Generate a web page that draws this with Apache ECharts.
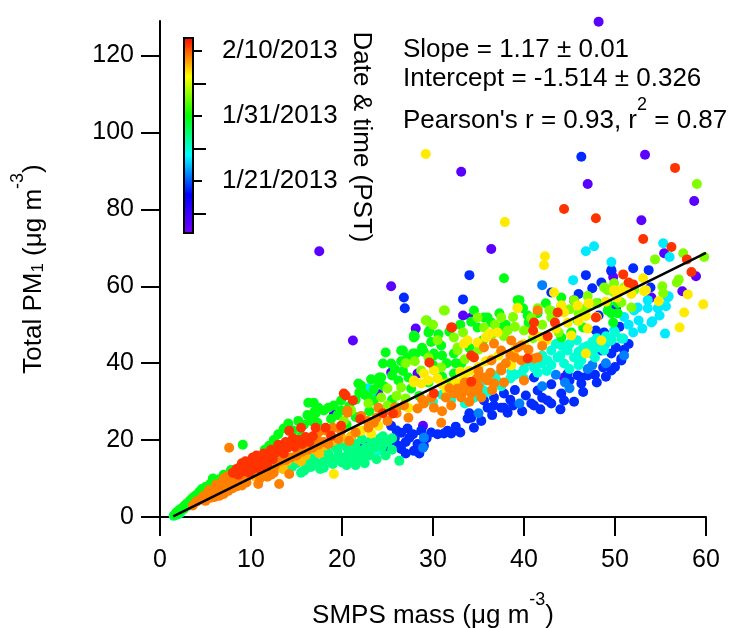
<!DOCTYPE html>
<html>
<head>
<meta charset="utf-8">
<script src="https://cdn.jsdelivr.net/npm/echarts@6/dist/echarts.min.js"></script>
<style>html,body{margin:0;padding:0;background:#fff}#c{width:735px;height:628px}</style>
</head>
<body>
<div id="c"></div>
<script>
// ---- colour scale (date, day-of-year 2013) ----
const dayMin = 13, dayMax = 43;
const rainbow = ['#7700ff', '#0000ff', '#00ffff', '#00ff00', '#ffff00', '#ff0000'];
const cbMajorTicks = [21, 31, 41];
const cbMajorLabels = ['1/21/2013', '1/31/2013', '2/10/2013'];
const cbMinorTicks = [16, 26, 36];

// ---- axis ticks ----
const xTicks = [0, 10, 20, 30, 40, 50, 60];
const yTicks = [0, 20, 40, 60, 80, 100, 120];

// ---- fit ----
const fitSlope = 1.17, fitIntercept = -1.514;
const fitX = [1.45, 60];

// ---- points grouped by date (day value per group) ----
const groupDays = [14.5, 20, 22, 24.5, 26, 28, 30.5, 34, 37.5, 38.5, 40, 41.8];

const violetPts = [[17.5,69.1],[33.1,89.8],[36.4,69.7],[25.4,60.0],[28.1,49.0],[47.0,86.6],[21.2,45.9],[53.3,94.2],[58.7,82.2],[52.9,77.2],[55.4,68.6],[58.9,62.6],[57.4,58.7],[49.6,63.9],[49.8,62.4],[22.4,19.0],[28.9,23.7],[25.4,37.6],[44.4,36.3],[33.3,52.4],[34.2,51.9],[45.5,56.4],[54.0,57.1],[48.2,128.8],[28.3,37.3],[24.0,32.0],[19.1,26.6]];

const bluePts = [[34.0,62.9],[26.8,57.1],[26.9,54.3],[33.3,56.6],[46.3,93.7],[46.8,62.9],[52.0,64.7],[53.7,64.2],[53.9,59.7],[43.0,58.4],[25.4,23.7],[25.8,20.5],[26.2,18.5],[26.5,21.9],[26.5,17.7],[27.0,19.5],[27.4,20.6],[27.9,17.2],[28.3,19.0],[28.7,22.4],[29.0,18.5],[29.3,20.5],[26.0,22.5],[27.2,23.0],[27.8,21.5],[28.5,16.5],[25.2,19.0],[29.8,22.0],[27.0,16.5],[24.6,17.2],[31.2,21.7],[32.0,21.7],[33.8,25.6],[34.5,23.2],[31.6,22.4],[35.3,25.0],[34.2,25.8],[36.0,28.4],[37.5,28.4],[38.2,27.1],[35.6,30.3],[36.7,31.1],[37.8,32.1],[40.2,31.6],[41.5,32.9],[40.8,29.5],[42.6,30.3],[44.1,32.1],[44.4,30.3],[41.1,29.0],[41.1,36.3],[45.9,36.8],[47.0,36.8],[46.3,34.7],[48.7,38.9],[36.7,29.0],[37.8,28.4],[44.8,37.3],[46.3,36.3],[49.6,42.5],[50.7,40.7],[49.6,38.1],[47.9,48.5],[48.8,48.0],[49.6,45.9],[48.5,43.3],[50.7,41.2],[50.1,44.1],[50.1,54.3],[48.2,52.4],[49.6,64.2],[39.0,33.0],[43.0,34.5],[38.5,30.5],[42.0,31.0],
  [30.5,21.5],[32.5,23.5],[33.0,22.0],[34.0,27.0],[36.5,26.5],[38.8,29.0],[39.8,27.5],[41.8,28.0],[43.0,29.5],[44.0,28.0],[45.5,30.0],[46.5,32.5],[48.0,35.0],[49.0,36.5],[45.0,35.5],[47.8,37.0],[50.0,39.0],[51.0,43.5],[51.5,45.0],[50.5,49.5],[46.0,58.0],[47.5,59.5],[48.5,61.0]];

const azurePts = [[42.0,60.3],[42.0,34.0],[44.5,35.0],[47.0,38.5],[49.0,40.0],[28.9,18.0],[29.0,20.6],[35.0,27.0],[39.5,29.5],[45.0,33.5],[47.5,39.5],[43.5,37.0],[51.0,42.0]];

const cyanPts = [[46.8,69.1],[47.7,70.4],[45.4,61.6],[49.6,66.3],[55.3,71.2],[56.0,67.6],[55.5,47.7],[54.1,50.9],[54.9,52.4],[55.6,54.8],[55.9,57.4],[53.6,54.3],[54.7,54.3],[52.6,51.1],[54.0,50.6],[52.5,54.5],[52.1,53.7],[53.6,56.4],[55.1,55.0],[55.8,57.1],[47.7,43.8],[49.0,45.1],[49.9,48.5],[50.9,46.4],[22.9,33.5],[23.3,32.5],[51.5,50.0],[53.0,49.0],[52.0,48.0],[51.0,52.0]];

const aquaPts = [[42.6,40.7],[43.7,41.5],[44.4,39.9],[45.5,41.5],[46.3,40.7],[47.4,42.5],[48.1,44.1],[48.8,43.3],[44.8,43.3],[43.0,43.3],[41.9,39.9],[41.1,38.9],[39.7,37.3],[48.5,45.1],[49.6,45.9],[50.7,46.4],[45.0,38.5],[46.5,44.0],[47.5,45.5],[42.0,42.0],[40.5,40.5],[38.5,36.0],[37.5,34.0],[36.0,32.5],[34.5,31.0],[33.5,29.5],[43.5,45.0],[45.8,46.0],[50.0,48.0],[44.2,44.5],[38.6,37.8],[40.0,36.0],[36.8,36.8],[35.2,35.0],[33.0,34.5],[32.0,30.5],[22.5,16.0],[23.5,16.8],[24.0,17.4],
  [30.0,30.0],[31.0,31.8],[34.0,33.8],[35.5,33.0],[37.0,35.5],[39.0,37.0],[40.0,38.5],[41.5,37.5],[43.0,39.5],[44.0,42.0],[46.0,43.0],[47.0,44.5],[45.0,45.0],[48.0,46.5],[49.0,47.0],[42.5,38.0],[46.0,39.5],[47.8,41.5]];

const springPts = [[1.5,0.3],[1.9,0.6],[2.2,1.0],[15.5,11.5],[16.0,12.5],[16.6,13.0],[17.2,13.8],[17.6,12.5],[15.0,14.0],[16.3,14.8],[15.8,12.0],[17.4,13.8],[18.0,14.5],[18.6,15.0],[19.1,15.1],[19.6,16.0],[20.2,15.5],[20.7,16.4],[21.2,17.0],[21.7,16.5],[22.1,17.2],[22.6,18.0],[23.0,17.5],[23.5,18.0],[24.0,19.0],[24.4,18.2],[19.0,13.8],[20.0,14.2],[21.0,14.8],[22.0,15.5],[23.0,16.0],[18.5,16.5],[19.5,17.5],[20.5,18.3],[21.5,19.0],[26.3,14.6],[25.0,19.5],[25.5,20.5],[24.5,21.0],[14.5,13.0],[15.2,15.5],[17.0,15.8],[18.0,12.8],[20.5,13.5],
  [16.8,15.8],[18.2,17.2],[19.2,18.5],[20.0,19.0],[21.0,20.0],[22.2,20.2],[23.2,19.8],[24.2,20.5],[25.5,17.5],[24.8,16.0],[23.8,15.0],[22.5,14.0],[21.5,13.5]];

const greenPts = [[1.6,0.5],[1.8,1.2],[2.1,1.8],[2.4,2.3],[2.7,3.0],[3.0,3.6],[3.3,4.3],[3.6,5.0],[3.9,5.6],[4.3,6.5],[4.6,7.3],[5.0,7.8],[5.5,8.6],[6.0,9.2],[6.5,9.8],[2.0,1.0],[2.6,2.0],[3.2,3.0],[4.0,4.8],[4.8,6.5],[9.1,18.8],[13.0,21.5],[13.6,23.0],[14.1,24.3],[14.6,22.5],[15.2,25.0],[15.8,24.0],[16.2,26.5],[16.6,25.5],[17.0,27.5],[16.9,29.7],[17.3,24.5],[15.5,21.0],[17.4,28.4],[18.5,28.4],[19.9,27.7],[21.8,34.7],[22.1,32.9],[23.5,30.3],[24.0,34.7],[24.3,36.3],[24.8,42.8],[25.4,39.9],[26.7,43.3],[26.7,38.0],[16.3,29.7],[17.1,26.9],[16.6,25.0],[18.0,27.7],[19.1,29.0],[19.9,30.3],[22.1,34.2],[21.9,32.4],[22.9,31.1],[24.1,36.3],[24.5,39.9],[26.2,35.5],[27.3,36.3],[27.6,33.4],[28.1,42.5],[27.9,47.2],[29.5,48.0],[30.9,44.6],[30.1,42.0],[32.3,42.5],[33.1,39.9],[32.3,37.3],[28.0,47.0],[29.3,51.1],[29.6,48.5],[37.8,62.1],[35.6,51.9],[39.3,56.4],[39.9,54.3],[37.3,53.0],[34.9,49.3],[36.4,50.6],[40.4,52.4],[42.4,55.6],[44.1,57.1],[41.5,53.0],[44.1,46.7],[45.2,48.0],[27.9,46.7],[26.5,43.3],[27.8,42.5],[30.1,42.5],[34.5,53.7],[36.0,51.9],[37.5,49.3],[39.5,56.4],[45.9,51.1],[46.5,49.3],[49.6,53.0],[50.3,55.6],[49.2,55.6],[49.2,53.7],[50.3,53.0],[49.8,50.6],[48.1,55.6],[20.5,24.0],[21.5,26.0],[23.0,27.5],[25.5,30.5],[26.0,28.5],[28.5,31.5],[29.5,35.0],[31.0,36.5],[31.5,40.0],[34.0,44.0],[35.5,46.0],[38.0,50.0],[40.5,50.5],[43.0,53.5],[12.0,18.5],[12.5,20.0],[11.5,17.5],
  [18.8,25.5],[19.5,26.5],[20.8,28.8],[21.5,30.5],[22.5,31.8],[23.5,33.2],[24.6,34.0],[25.5,36.8],[26.5,40.5],[27.2,41.5],[28.8,44.0],[29.8,45.5],[30.6,47.5],[31.8,48.2],[33.0,50.0],[34.2,50.8],[29.0,43.0],[23.2,35.8],[25.8,38.5],[31.0,42.0],[32.5,40.0],[30.0,39.5],[7.0,11.0],[7.8,12.2],[5.8,10.0]];

const limePts = [[31.3,53.7],[54.4,67.0],[57.5,68.6],[59.8,67.6],[59.0,86.6],[57.0,61.8],[56.8,61.0],[55.2,60.0],[55.3,58.2],[21.0,27.7],[22.9,29.5],[24.3,31.1],[25.0,33.4],[26.5,33.7],[27.0,30.8],[28.7,38.1],[30.9,38.9],[31.6,35.0],[32.7,44.1],[32.7,43.3],[38.2,48.5],[43.0,51.9],[47.9,55.6],[49.2,59.0],[29.2,51.1],[31.2,53.7],[32.3,46.7],[33.3,48.0],[34.9,51.9],[35.6,49.3],[37.5,51.9],[39.3,54.5],[41.5,54.3],[44.1,55.0],[45.5,56.4],[48.8,59.7],[49.9,60.8],[52.1,59.0],[49.0,59.5],[49.9,58.4],[51.0,59.7],[50.7,55.8],[51.8,54.5],[20.2,25.0],[25.0,29.0],[28.0,40.5],[29.5,41.5],[30.5,46.0],[33.5,41.0],[35.0,43.5],[36.5,47.5],[40.0,48.5],[42.0,50.0],[46.0,53.0],[47.0,57.5],[30.0,50.0],[27.0,40.0],[26.0,31.5],
  [36.8,50.0],[38.8,52.0],[40.8,51.8],[42.8,53.8],[45.0,54.0],[46.8,54.2],[37.8,47.0],[39.0,49.5],[41.0,46.5],[43.8,48.0]];

const yellowPts = [[29.2,94.4],[37.9,76.7],[42.3,67.8],[42.2,65.5],[58.0,57.9],[59.7,55.3],[57.6,53.2],[57.1,49.3],[53.1,62.1],[53.2,58.7],[54.8,56.1],[22.1,22.4],[23.2,21.7],[24.0,23.7],[27.9,35.0],[28.7,34.7],[29.5,35.5],[33.4,36.3],[33.8,45.9],[39.3,54.3],[44.1,55.0],[45.2,47.2],[47.0,49.0],[48.5,45.9],[46.8,42.5],[37.1,48.0],[33.4,45.1],[38.6,39.4],[44.4,53.2],[45.9,55.0],[35.8,46.7],[41.1,47.7],[43.3,58.4],[47.1,55.6],[49.9,59.0],[53.4,59.0],[36.2,47.7],[34.9,45.4],[27.9,35.5],[30.1,38.1],[29.0,37.3],[51.4,60.3],[50.7,59.0],[27.3,28.4],[21.8,22.4],[19.1,11.2],[31.5,33.0],[35.0,39.0],[36.5,41.0],[40.0,45.0],[42.5,46.0],[43.5,49.0],[46.0,51.0],[48.0,52.0],[32.5,35.0],[34.0,38.0],[30.5,36.0],
  [31.0,34.5],[33.0,37.8],[35.8,40.5],[37.2,42.0],[39.0,43.5],[41.8,46.8],[44.8,50.5],[46.8,52.3],[49.0,56.0],[50.2,57.0],[51.8,58.0]];

const goldenPts = [[10.5,10.5],[11.2,11.2],[12.0,12.0],[13.0,13.2],[14.0,14.5],[15.0,15.2],[16.0,16.0],[17.0,17.5],[18.0,18.5],[19.0,19.8],[20.0,20.5],[21.0,21.0],[13.5,12.5],[15.5,14.5],[17.5,16.5]];

const orangePts = [[7.6,18.0],[3.6,3.0],[4.0,4.0],[4.4,4.5],[4.8,5.5],[5.2,6.0],[5.6,5.0],[6.0,6.5],[6.4,7.2],[6.8,7.8],[7.2,8.5],[7.6,9.0],[8.0,9.6],[5.4,7.0],[6.2,8.5],[7.0,10.0],[7.4,10.6],[8.2,9.0],[8.8,9.8],[9.4,10.5],[10.0,11.0],[10.6,11.8],[11.4,12.0],[12.0,13.0],[12.6,13.2],[13.2,14.5],[13.8,14.8],[14.4,15.5],[15.0,16.0],[15.6,17.0],[16.2,17.5],[16.8,18.0],[17.4,18.8],[18.0,19.5],[10.8,8.6],[13.1,8.6],[14.2,11.2],[11.8,10.5],[12.5,11.5],[17.4,22.0],[18.2,22.5],[19.0,23.2],[20.6,27.1],[22.1,26.3],[22.8,25.0],[24.0,28.4],[25.0,25.0],[27.3,25.8],[28.3,28.2],[30.9,24.5],[30.1,28.4],[31.4,31.1],[33.1,32.1],[33.8,32.9],[17.4,19.8],[18.5,19.0],[19.6,20.3],[20.8,19.8],[35.6,44.1],[36.7,45.1],[37.5,43.3],[38.6,45.9],[39.7,44.6],[41.1,41.2],[36.4,40.7],[37.5,38.9],[35.6,36.3],[36.7,34.7],[37.8,35.0],[34.2,33.7],[33.1,33.4],[32.3,32.1],[34.9,32.9],[33.1,31.1],[40.0,35.5],[32.7,33.4],[34.2,32.1],[35.3,31.1],[36.0,35.5],[37.5,38.1],[39.3,44.1],[41.5,41.5],[39.7,40.7],[41.5,53.7],[20.6,27.7],[22.9,23.2],[19.9,22.4],[38.5,42.0],[40.5,43.5],[35.0,38.0],[26.0,27.0],[23.5,24.5],[29.0,29.5],
  [21.5,22.0],[23.8,25.8],[25.8,28.5],[26.8,29.0],[28.8,30.5],[29.8,31.0],[31.8,33.5],[34.8,36.0],[36.3,37.5],[38.0,40.0],[39.0,41.5],[42.0,44.5],[33.5,35.0],[35.0,34.0],[36.5,33.0],[34.0,30.0],[32.0,29.0],[31.0,27.5],
  [5.0,4.2],[6.5,5.5],[7.5,6.8],[8.5,8.0],[9.5,9.0],[11.0,10.0],[12.2,11.0],[9.0,8.2],[7.0,6.0],[6.0,5.2],[8.0,7.5]];

const redPts = [[8.0,11.5],[8.4,12.5],[8.8,13.0],[9.2,12.0],[9.6,13.5],[10.0,14.2],[10.4,13.0],[10.8,14.5],[11.2,15.3],[8.6,11.0],[9.0,14.0],[9.8,11.5],[10.2,15.5],[11.0,12.5],[11.6,14.0],[12.0,16.2],[12.4,15.0],[12.8,16.8],[13.2,17.5],[13.6,16.5],[14.0,18.0],[14.4,19.0],[14.8,18.2],[15.2,20.0],[15.6,19.0],[16.0,20.8],[16.4,19.5],[16.8,21.0],[14.2,22.4],[20.2,32.1],[21.2,30.3],[25.6,26.9],[29.6,40.2],[30.1,32.1],[15.5,23.2],[17.1,23.2],[18.2,23.2],[19.9,23.7],[18.8,21.1],[20.4,31.6],[32.1,49.3],[34.5,41.5],[34.2,35.2],[41.1,50.6],[41.0,48.5],[43.7,53.2],[43.4,50.6],[42.6,47.0],[40.4,41.2],[47.9,51.9],[44.4,80.1],[47.9,77.7],[56.6,90.8],[53.1,72.3],[56.2,70.2],[57.9,67.0],[58.4,63.7],[50.9,63.1],[51.5,61.0],[52.0,60.5],[34.2,42.0],[32.0,49.3],[22.0,25.5],[24.5,27.0],
  [9.4,14.5],[10.6,16.0],[11.4,16.5],[12.2,17.5],[13.0,18.8],[13.8,19.5],[14.6,20.5],[9.0,11.8],[10.2,12.5],[11.8,13.2]];

const groups = [violetPts, bluePts, azurePts, cyanPts, aquaPts, springPts, greenPts, limePts, yellowPts, goldenPts, orangePts, redPts];

// ---- build ----
const scatterData = [];
groups.forEach((g, i) => g.forEach(p => scatterData.push([p[0], p[1], groupDays[i]])));
const fitData = fitX.map(x => [x, fitSlope * x + fitIntercept]);

const FONT = '"Liberation Sans", Arial, Helvetica, sans-serif';
const FS = 26;   // annotation / title text
const TFS = 25;  // tick labels
const richStyles = {
  a: { fontSize: FS, fontFamily: FONT, color: '#000', lineHeight: 38, verticalAlign: 'bottom' },
  sup: { fontSize: 18, fontFamily: FONT, color: '#000', lineHeight: 18, verticalAlign: 'top' },
  sub: { fontSize: 17, fontFamily: FONT, color: '#000', lineHeight: 21, verticalAlign: 'bottom' }
};

const chart = echarts.init(document.getElementById('c'), null, { renderer: 'canvas' });
const stops = rainbow.map((c, i) => ({ offset: i / (rainbow.length - 1), color: c }));

chart.setOption({
  backgroundColor: '#fff',
  animation: false,
  grid: [
    { left: 160, right: 29, top: 21, bottom: 111, outerBoundsMode: 'none', containLabel: false },
    { left: 184, width: 9, top: 38, height: 195, outerBoundsMode: 'none', containLabel: false }
  ],
  xAxis: [
    {
      type: 'value', gridIndex: 0, min: 0, max: 60, interval: 10,
      splitLine: { show: false },
      axisLine: { onZero: false, lineStyle: { color: '#000', width: 2 } },
      axisTick: { length: 19, lineStyle: { color: '#000', width: 2 }, customValues: xTicks },
      axisLabel: { color: '#000', fontSize: TFS, fontFamily: FONT, margin: 31, customValues: xTicks },
      name: '{a|SMPS mass (μg m}{sup|-3}{a|)}',
      nameLocation: 'middle', nameGap: 74,
      nameTextStyle: { rich: richStyles }
    },
    { type: 'value', gridIndex: 1, min: 0, max: 1, show: false }
  ],
  yAxis: [
    {
      type: 'value', gridIndex: 0, min: 0, max: 129,
      splitLine: { show: false },
      axisLine: { onZero: false, lineStyle: { color: '#000', width: 2 } },
      axisTick: { length: 19, lineStyle: { color: '#000', width: 2 }, customValues: yTicks },
      axisLabel: { color: '#000', fontSize: TFS, fontFamily: FONT, margin: 26, customValues: yTicks },
      name: '{a|Total PM}{sub|1}{a| (μg m}{sup|-3}{a|)}',
      nameLocation: 'middle', nameRotate: 90, nameGap: 113,
      nameTextStyle: { rich: richStyles }
    },
    {
      type: 'value', gridIndex: 1, min: dayMin, max: dayMax, position: 'right',
      splitLine: { show: false },
      axisLine: { show: false },
      axisTick: { length: 18, lineStyle: { color: '#000', width: 2 }, customValues: cbMajorTicks },
      axisLabel: {
        color: '#000', fontSize: FS, fontFamily: FONT, margin: 29, customValues: cbMajorTicks,
        formatter: v => cbMajorLabels[cbMajorTicks.indexOf(v)] || ''
      }
    },
    {
      type: 'value', gridIndex: 1, min: dayMin, max: dayMax, position: 'right',
      splitLine: { show: false },
      axisLine: { show: false },
      axisTick: { length: 13, lineStyle: { color: '#000', width: 2 }, customValues: cbMinorTicks },
      axisLabel: { show: false }
    }
  ],
  visualMap: {
    type: 'continuous', show: false, seriesIndex: 0, dimension: 2,
    min: dayMin, max: dayMax, inRange: { color: rainbow }
  },
  series: [
    {
      type: 'scatter', xAxisIndex: 0, yAxisIndex: 0, symbol: 'circle', symbolSize: 10,
      clip: false, data: scatterData, itemStyle: { opacity: 1 }, z: 2
    },
    {
      type: 'line', xAxisIndex: 0, yAxisIndex: 0, data: fitData, showSymbol: false,
      lineStyle: { color: '#000', width: 2.5 }, z: 3, silent: true
    },
    {
      type: 'custom', xAxisIndex: 1, yAxisIndex: 1, data: [[0, dayMin, 1, dayMax]],
      renderItem: (params, api) => {
        const p0 = api.coord([api.value(0), api.value(3)]);
        const p1 = api.coord([api.value(2), api.value(1)]);
        return {
          type: 'rect',
          shape: { x: p0[0], y: p0[1], width: p1[0] - p0[0], height: p1[1] - p0[1] },
          style: {
            fill: new echarts.graphic.LinearGradient(0, 1, 0, 0, stops),
            stroke: '#000', lineWidth: 2
          }
        };
      },
      silent: true, z: 5
    }
  ],
  graphic: [
    { type: 'text', left: 403, top: 37, style: { text: 'Slope = 1.17 ± 0.01', fontSize: FS, fontFamily: FONT, fill: '#000' } },
    { type: 'text', left: 403, top: 66, style: { text: 'Intercept = -1.514 ± 0.326', fontSize: FS, fontFamily: FONT, fill: '#000' } },
    { type: 'text', left: 403, top: 96, style: { text: "{a|Pearson's r = 0.93, r}{sup|2}{a| = 0.87}", rich: richStyles } },
    { type: 'text', x: 361, y: 137, rotation: -Math.PI / 2,
      style: { text: 'Date & time (PST)', fontSize: FS, fontFamily: FONT, fill: '#000', align: 'center', verticalAlign: 'middle' } }
  ]
});
</script>
</body>
</html>
